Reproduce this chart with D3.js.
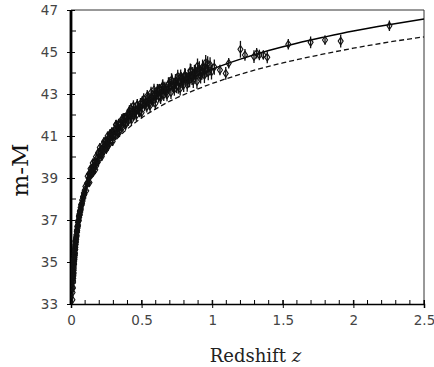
<!DOCTYPE html>
<html>
<head>
<meta charset="utf-8">
<script src="https://cdn.jsdelivr.net/npm/d3@7"></script>
<style>
  body { margin: 0; background: #fff; }
  .tick-label { font-family: "DejaVu Sans", sans-serif; font-size: 13.5px; fill: #444; }
</style>
</head>
<body>
<script>
// tick values
const xTicks = [0, 0.5, 1, 1.5, 2, 2.5];
const yTicks = [33, 35, 37, 39, 41, 43, 45, 47];

// solid model curve
const solidZ  = [0.009, 0.01, 0.015, 0.02, 0.03, 0.04, 0.05, 0.06, 0.07, 0.08, 0.1, 0.12, 0.15, 0.2, 0.25, 0.3, 0.35, 0.4, 0.45, 0.5, 0.55, 0.6, 0.65, 0.7, 0.75, 0.8, 0.85, 0.9, 0.95, 1.0, 1.2, 1.4, 1.6, 1.8, 2.0, 2.25, 2.5];
const solidMu = [33.04, 33.28, 34.16, 34.80, 35.69, 36.33, 36.83, 37.24, 37.58, 37.88, 38.41, 38.84, 39.36, 40.05, 40.61, 41.06, 41.45, 41.79, 42.09, 42.36, 42.61, 42.84, 43.04, 43.24, 43.42, 43.59, 43.75, 43.90, 44.04, 44.18, 44.66, 45.07, 45.42, 45.72, 46.00, 46.30, 46.57];

// dashed model curve
const dashZ  = [0.009, 0.01, 0.02, 0.05, 0.1, 0.15, 0.2, 0.3, 0.4, 0.5, 0.6, 0.75, 0.8, 1.0, 1.25, 1.5, 1.75, 2.0, 2.25, 2.5];
const dashMu = [32.93, 33.16, 34.67, 36.68, 38.21, 39.11, 39.76, 40.68, 41.34, 41.86, 42.29, 42.82, 42.97, 43.50, 44.04, 44.48, 44.85, 45.18, 45.47, 45.72];

// supernovae [z, m-M, error]
const snNearby = [
  [0.010,33.20,.20],[0.011,33.55,.20],[0.012,33.80,.20],[0.013,33.75,.18],[0.014,34.12,.18],[0.015,34.05,.18],[0.015,34.30,.16],
  [0.016,34.22,.16],[0.016,34.40,.16],[0.017,34.58,.16],[0.017,34.35,.15],[0.018,34.50,.15],[0.018,34.45,.15],[0.019,34.80,.15],[0.019,34.62,.15],
  [0.020,34.71,.14],[0.020,34.95,.14],[0.021,34.88,.14],[0.021,35.02,.14],[0.022,35.12,.14],[0.022,34.90,.13],[0.023,35.05,.13],[0.023,35.18,.13],
  [0.024,35.30,.13],[0.024,35.12,.13],[0.025,35.22,.13],[0.025,35.40,.13],[0.026,35.45,.12],[0.026,35.30,.12],[0.027,35.55,.12],[0.027,35.35,.12],
  [0.028,35.42,.12],[0.028,35.63,.12],[0.029,35.58,.12],[0.029,35.72,.12],[0.030,35.78,.12],[0.030,35.60,.12],[0.031,35.70,.12],[0.031,35.85,.12],
  [0.032,35.92,.12],[0.033,35.85,.12],[0.033,35.98,.12],[0.034,36.05,.12],[0.035,35.95,.12],[0.035,36.10,.12],[0.036,36.18,.12],[0.037,36.08,.12],
  [0.038,36.30,.12],[0.039,36.20,.12],[0.040,36.26,.12],[0.041,36.45,.12],[0.042,36.52,.12],[0.043,36.42,.12],[0.044,36.50,.12],[0.045,36.68,.12],
  [0.046,36.72,.12],[0.047,36.62,.12],[0.048,36.70,.12],[0.049,36.88,.12],[0.050,36.76,.12],[0.051,36.95,.12],[0.052,36.98,.12],[0.054,36.95,.12],
  [0.055,37.00,.12],[0.056,37.18,.12],[0.057,37.20,.12],[0.058,37.12,.12],[0.060,37.30,.12],[0.061,37.25,.12],[0.062,37.24,.12],[0.063,37.40,.12],
  [0.064,37.45,.12],[0.066,37.38,.12],[0.067,37.45,.12],[0.068,37.60,.12],[0.070,37.52,.12],[0.072,37.72,.12],[0.073,37.75,.12],[0.076,37.72,.12],
  [0.078,37.80,.12],[0.079,37.95,.12],[0.082,37.90,.12],[0.085,38.10,.12],[0.086,38.12,.12],[0.088,38.05,.12],[0.091,38.28,.12],[0.093,38.20,.12],
  [0.094,38.22,.12],[0.097,38.42,.12]
];
const snIntermediate = [
  [0.102,38.60,.15],[0.108,38.39,.15],[0.113,38.75,.15],[0.118,39.08,.16],[0.122,38.78,.16],[0.127,39.19,.16],
  [0.131,38.78,.16],[0.136,39.23,.16],[0.140,39.15,.17],[0.145,39.46,.17],[0.150,39.21,.17],[0.154,39.72,.17],
  [0.158,39.27,.18],[0.163,39.58,.18],[0.168,39.75,.18],[0.172,39.39,.18],[0.177,40.01,.18],[0.181,39.73,.18],
  [0.186,39.95,.19],[0.190,39.75,.19],[0.195,40.19,.19],[0.200,39.93,.19],[0.204,40.45,.20],[0.209,40.14,.20],
  [0.213,40.35,.20],[0.218,40.02,.20],[0.222,40.40,.20],[0.227,40.61,.20],[0.232,40.28,.20],[0.236,40.51,.20],
  [0.241,40.40,.20],[0.245,40.76,.20],[0.250,40.36,.20],[0.254,40.73,.21],[0.259,41.00,.21],[0.263,40.68,.21],
  [0.268,40.94,.21],[0.272,40.62,.21],[0.277,41.12,.21],[0.281,40.80,.21],[0.286,40.98,.22],[0.290,41.20,.22],
  [0.295,40.74,.22],[0.300,41.18,.22],[0.305,41.08,.22],[0.310,41.32,.22],[0.315,41.02,.22],[0.320,41.54,.23],
  [0.326,41.19,.23],[0.331,41.37,.23],[0.337,41.59,.23],[0.343,41.18,.23],[0.349,41.54,.23],[0.355,41.45,.23],
  [0.361,41.81,.24],[0.367,41.43,.24],[0.373,41.63,.24],[0.380,41.86,.24],[0.387,41.53,.24],[0.394,41.87,.24]
];
const snDistant = [
  [0.400,42.04,.25],[0.407,41.73,.25],[0.414,42.22,.25],[0.421,41.97,.25],[0.428,41.76,.25],[0.435,42.18,.25],
  [0.442,42.44,.26],[0.449,42.03,.26],[0.456,42.24,.26],[0.463,41.98,.26],[0.470,42.50,.26],[0.478,42.32,.26],
  [0.485,42.16,.26],[0.492,42.54,.27],[0.500,42.11,.27],[0.507,42.55,.27],[0.515,42.77,.27],[0.522,42.45,.27],
  [0.530,42.61,.27],[0.537,42.40,.28],[0.545,42.84,.28],[0.552,42.66,.28],[0.560,42.44,.28],[0.567,43.07,.28],
  [0.575,42.78,.28],[0.582,42.67,.28],[0.590,42.99,.29],[0.597,42.55,.29],[0.605,43.00,.29],[0.612,43.19,.29],
  [0.620,42.88,.29],[0.627,43.19,.29],[0.635,42.82,.30],[0.642,43.11,.30],[0.650,43.40,.30],[0.657,42.97,.30],
  [0.665,43.28,.30],[0.672,43.15,.30],[0.680,42.96,.30],[0.690,43.48,.31],
  [0.700,43.34,.31],[0.708,43.07,.31],[0.716,43.62,.31],[0.724,43.37,.31],[0.732,43.23,.31],[0.740,43.63,.32],
  [0.748,43.36,.32],[0.756,43.84,.32],[0.765,43.59,.32],[0.773,43.25,.32],[0.781,43.72,.32],[0.790,43.57,.33],
  [0.798,43.43,.33],[0.806,43.91,.33],[0.815,43.72,.33],[0.823,43.44,.33],[0.832,43.87,.33],[0.840,43.66,.34],
  [0.849,44.09,.34],[0.857,43.77,.34],[0.866,43.62,.34],[0.874,44.04,.34],[0.883,43.95,.34],[0.892,43.60,.35],
  [0.900,44.05,.35],[0.909,44.21,.35],[0.918,43.85,.35],[0.927,44.03,.35],[0.936,44.20,.35],[0.945,43.88,.36],
  [0.954,44.50,.36],[0.963,44.18,.36],[0.972,44.02,.36],[0.985,44.39,.36],[0.995,44.05,.36],[1.015,44.28,.36]
];
const snSurvey = [
  [0.125,38.99,.16],[0.138,39.44,.17],[0.152,39.27,.17],[0.166,39.78,.18],[0.179,39.58,.18],[0.193,40.22,.19],
  [0.207,40.21,.20],[0.220,40.14,.20],[0.234,40.74,.20],[0.248,40.61,.20],[0.262,40.51,.21],[0.275,41.05,.21],
  [0.289,41.09,.22],[0.303,41.00,.22],[0.318,41.53,.22],[0.334,41.15,.23],[0.352,41.62,.23],[0.370,41.85,.24],
  [0.390,41.62,.24],[0.410,42.07,.25],[0.425,42.32,.25],[0.440,41.98,.26],[0.455,42.23,.26],[0.470,42.50,.26],
  [0.488,42.15,.26],[0.505,42.63,.27],[0.520,42.52,.27],[0.540,42.91,.28],[0.555,42.52,.28],[0.570,42.88,.28],
  [0.588,43.20,.29],[0.600,42.86,.29],[0.618,43.17,.29],[0.632,42.87,.29],[0.648,43.35,.30],[0.662,43.23,.30],
  [0.676,43.08,.30],[0.695,43.50,.31],[0.712,43.68,.31],[0.728,43.39,.31],[0.744,43.60,.32],[0.760,43.33,.32],
  [0.777,43.85,.32],[0.794,43.67,.33],[0.810,43.87,.33],[0.828,43.63,.33],[0.845,44.11,.34],[0.862,43.94,.34],
  [0.880,44.06,.34],[0.896,44.34,.35],[0.914,43.92,.35],[0.932,44.29,.35],[0.950,44.16,.36],[0.968,44.44,.36]
];
const snHighZ = [
  [1.055,44.14,.25],[1.096,43.98,.30],[1.117,44.46,.25],[1.200,45.13,.40],[1.232,44.86,.28],[1.296,44.78,.30],
  [1.315,44.94,.25],[1.334,44.86,.25],[1.362,44.86,.22],[1.390,44.75,.28],[1.539,45.37,.25],[1.697,45.46,.28],
  [1.799,45.57,.22],[1.910,45.52,.30],[2.255,46.25,.25]
];

const W = 434, H = 367;
const margin = {top: 10, right: 10, bottom: 63, left: 71};
const width = W - margin.left - margin.right;
const height = H - margin.top - margin.bottom;

const x = d3.scaleLinear().domain([0, 2.5]).range([0, width]);
const y = d3.scaleLinear().domain([33, 47]).range([height, 0]);

const svg = d3.select("body").append("svg")
  .attr("width", W).attr("height", H);

svg.append("defs").append("clipPath").attr("id", "plot-clip")
  .append("rect").attr("width", width).attr("height", height);

const g = svg.append("g")
  .attr("transform", "translate(" + margin.left + "," + margin.top + ")");

// frame: thin top and right
g.append("line").attr("x1", 0).attr("x2", width).attr("y1", 0).attr("y2", 0)
  .attr("stroke", "#333").attr("stroke-width", 1);
g.append("line").attr("x1", width).attr("x2", width).attr("y1", 0).attr("y2", height)
  .attr("stroke", "#333").attr("stroke-width", 1);

// minor ticks
const xMinor = d3.range(0, 2.5001, 0.1);
g.selectAll(".xminor").data(xMinor).enter().append("line")
  .attr("x1", d => x(d)).attr("x2", d => x(d))
  .attr("y1", height).attr("y2", height - 4)
  .attr("stroke", "#000").attr("stroke-width", 1);
const yMinor = d3.range(34, 47, 2);
g.selectAll(".yminor").data(yMinor).enter().append("line")
  .attr("x1", 0).attr("x2", 5)
  .attr("y1", d => y(d)).attr("y2", d => y(d))
  .attr("stroke", "#000").attr("stroke-width", 1);

// axes
const xAxis = d3.axisBottom(x).tickValues(xTicks).tickSize(4).tickPadding(7)
  .tickFormat(d => d3.format("")(d));
const gx = g.append("g").attr("transform", "translate(0," + height + ")").call(xAxis);
gx.select(".domain").attr("stroke", "#000").attr("stroke-width", 1.5);
gx.selectAll(".tick line").attr("y1", -4).attr("stroke", "#000");
gx.selectAll(".tick text").attr("class", "tick-label").attr("fill", null);

const yAxis = d3.axisLeft(y).tickValues(yTicks).tickSize(4).tickPadding(9);
const gy = g.append("g").call(yAxis);
gy.select(".domain").remove();
gy.selectAll(".tick line").attr("x1", 4).attr("stroke", "#000");
gy.selectAll(".tick text").attr("class", "tick-label").attr("fill", null);
g.append("line").attr("x1", 0).attr("x2", 0).attr("y1", 0).attr("y2", height + 0.75)
  .attr("stroke", "#000").attr("stroke-width", 2.8);

// model curves
const plot = g.append("g").attr("clip-path", "url(#plot-clip)");
const line = d3.line().x(d => x(d[0])).y(d => y(d[1])).curve(d3.curveMonotoneX);

plot.append("path").datum(dashZ.map((z, i) => [z, dashMu[i]]))
  .attr("d", line).attr("fill", "none").attr("stroke", "#111")
  .attr("stroke-width", 1.3).attr("stroke-dasharray", "5,3");

plot.append("path").datum(solidZ.map((z, i) => [z, solidMu[i]]))
  .attr("d", line).attr("fill", "none").attr("stroke", "#000")
  .attr("stroke-width", 1.5);

// data points with error bars
const sn = snNearby.concat(snIntermediate, snDistant, snSurvey, snHighZ);
const pts = plot.selectAll(".sn").data(sn).enter().append("g")
  .attr("class", "sn")
  .attr("transform", d => "translate(" + x(d[0]) + "," + y(d[1]) + ")");
pts.append("line")
  .attr("y1", d => y(d[1] + d[2]) - y(d[1]))
  .attr("y2", d => y(d[1] - d[2]) - y(d[1]))
  .attr("stroke", "#111").attr("stroke-width", 1.3);
pts.append("path")
  .attr("d", "M0,-3.8L2.5,0L0,3.8L-2.5,0Z")
  .attr("fill", "none").attr("stroke", "#111").attr("stroke-width", 1.1);

// axis titles
const xt = svg.append("text")
  .attr("x", margin.left + width / 2 + 8).attr("y", 362)
  .attr("text-anchor", "middle")
  .style("font-family", "'DejaVu Serif', serif").style("font-size", "18px").style("fill", "#222");
xt.append("tspan").text("Redshift ");
xt.append("tspan").style("font-style", "italic").text("z");

svg.append("text")
  .attr("transform", "translate(28," + (margin.top + height / 2 + 13) + ") rotate(-90)")
  .attr("text-anchor", "middle")
  .style("font-family", "'DejaVu Serif', serif").style("font-size", "23px").style("fill", "#111")
  .text("m-M");
</script>
</body>
</html>
